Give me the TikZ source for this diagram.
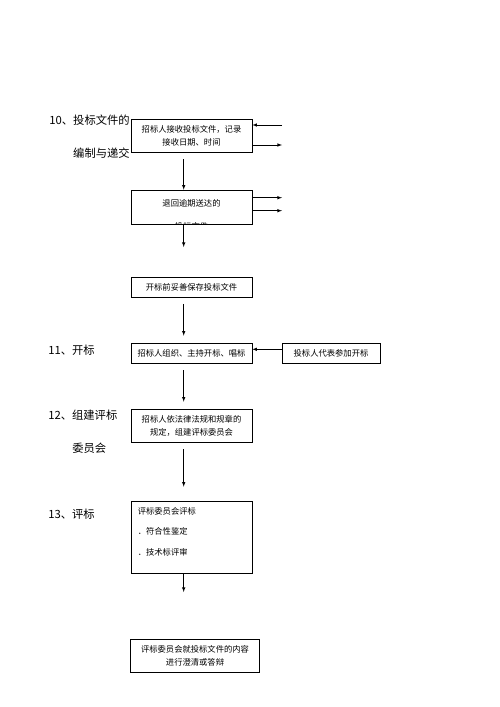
\documentclass[tikz,border=0pt]{standalone}
\usepackage{fontspec}
\setmainfont{Noto Sans CJK SC}
\usetikzlibrary{positioning}

\tikzset{
  box/.style={draw, rectangle, inner sep=0pt, minimum width=121pt, font=\fontsize{8.3}{13}\selectfont, align=center},
  steplabel/.style={font=\fontsize{11.3}{14}\selectfont, inner sep=0pt},
  flow/.style={->, line width=0.6pt},
}

\begin{document}
\begin{tikzpicture}[x=1pt, y=-1pt, >=latex, line width=0.6pt]
        \useasboundingbox (0,0) rectangle (500,707);

        % step labels
        \node (s10a) [steplabel, anchor=east] at (130,120) {10、投标文件的};
        \node (s10b) [steplabel, anchor=east] at (130,153) {编制与递交};
        \node (s11) [steplabel, anchor=west] at (48,350) {11、开标};
        \node (s12a) [steplabel, anchor=west] at (48,415) {12、组建评标};
        \node (s12b) [steplabel, anchor=west] at (72,448) {委员会};
        \node (s13) [steplabel, anchor=west] at (48,514) {13、评标};

        % boxes
        \node (b1) [box, minimum height=33pt] at (191.5,135.5) {招标人接收投标文件，记录\\接收日期、时间};
        \node (b2) [box, minimum height=34pt] at (191.5,207) {};
        \begin{scope}
          \clip (b2.south west) rectangle (b2.north east);
          \node (t2) [font=\fontsize{8.3}{23}\selectfont, align=center, anchor=north, inner sep=0pt] at (191.5,199) {退回逾期送达的\\投标文件};
        \end{scope}
        \node (b3) [box, minimum height=20pt] at (191.5,287) {开标前妥善保存投标文件};
        \node (b4) [box, minimum height=20pt] at (191.5,353) {招标人组织、主持开标、唱标};
        \node (b5) [box, minimum height=20pt, minimum width=98pt] at (331,353) {投标人代表参加开标};
        \node (b6) [box, minimum height=33pt] at (191.5,425.5) {招标人依法律法规和规章的\\规定，组建评标委员会};
        \node (b7) [box, minimum height=72pt] at (191.5,537) {};
        \node (t7) [font=\fontsize{8.3}{20.5}\selectfont, align=left, anchor=north west, inner sep=0pt] at (137.5,507) {评标委员会评标\\．符合性鉴定\\．技术标评审};
        \node (b8) [box, minimum height=33pt, minimum width=129pt] at (195,655.5) {评标委员会就投标文件的内容\\进行澄清或答辩};

        % free ends
        \coordinate (in1) at (282,125);
        \coordinate (out1) at (282,145);
        \coordinate (out2a) at (282,197.7);
        \coordinate (out2b) at (282,210.7);
        \coordinate (end2) at (183.7,247);
        \coordinate (end7) at (183.7,592);

        \draw[->] (in1) -- (in1 -| b1.east);
        \draw[->] (out1 -| b1.east) -- (out1);
        \draw[->] (out2a -| b2.east) -- (out2a);
        \draw[->] (out2b -| b2.east) -- (out2b);
        \draw[->, shorten <=7pt] ([xshift=-7.8pt]b1.south) -- ([xshift=-7.8pt]b2.north);
        \draw[->] ([xshift=-7.8pt]b2.south) -- (end2);
        \draw[->, shorten <=6.5pt, shorten >=7pt] ([xshift=-7.8pt]b3.south) -- ([xshift=-7.8pt]b4.north);
        \draw[->] ([yshift=3.7pt]b5.west) -- ([yshift=3.7pt]b4.east);
        \draw[->, shorten <=7pt, shorten >=7pt] ([xshift=-7.8pt]b4.south) -- ([xshift=-7.8pt]b6.north);
        \draw[->, shorten <=7pt, shorten >=14pt] ([xshift=-7.8pt]b6.south) -- ([xshift=-7.8pt]b7.north);
        \draw[->] ([xshift=-7.8pt]b7.south) -- (end7);
\end{tikzpicture}
\end{document}
